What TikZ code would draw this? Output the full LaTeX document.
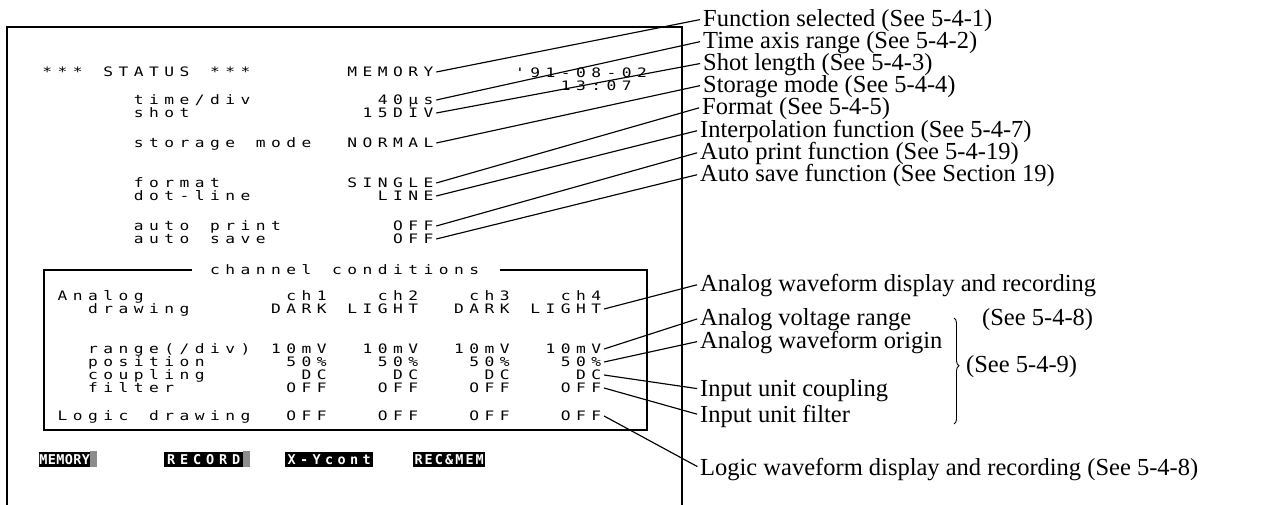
\documentclass[tikz,border=0pt]{standalone}
\usepackage{fontspec}
\setmainfont{Liberation Serif}
\newfontfamily\scrfont{DejaVu Sans Mono}[FakeStretch=1.25]
\newfontfamily\btnfont{DejaVu Sans Mono}
\usetikzlibrary{calc,decorations.pathreplacing}
\newlength\chpitch
\setlength\chpitch{15.25pt}
\def\scrloop#1{\ifx\relax#1\else\makebox[\chpitch][c]{#1}\expandafter\scrloop\fi}
\newcommand\scr[1]{\scrloop#1\relax}
\newcommand\gx[1]{39.4+15.25*(#1)}
\begin{document}
\begin{tikzpicture}[x=1pt,y=-1pt,
  scr/.style={font=\scrfont\fontsize{13}{14}\selectfont, inner sep=0pt, anchor=west, text height=9.5pt, text depth=0pt},
  lab/.style={font=\fontsize{24.5}{25}\selectfont, inner sep=0pt, anchor=west, text height=15pt, text depth=0pt},
  lead/.style={line width=1.15pt, shorten >=3pt},
  frame/.style={line width=1.8pt},
  inner/.style={line width=1.2pt},
  btn/.style={fill=black, text=white, anchor=west, font=\btnfont\bfseries\fontsize{13.5}{14}\selectfont, inner sep=0pt, minimum height=15pt, text height=10pt, text depth=0pt},
  pad/.style={fill=black!45}]
\useasboundingbox (0,0) rectangle (1284,505);
\fill[white] (0,0) rectangle (1284,505);
% outer screen frame
\draw[frame] (7,505) -- (7,27) -- (682,27) -- (682,505);
% status block
\node[scr] (hdr)   at ({\gx{0}},72)  {\scr{***~STATUS~***}};
\node[scr] (vfun)  at ({\gx{20}},72) {\scr{MEMORY}};
\node[scr] (date)  at ({\gx{31}},73) {\scr{'91-08-02}};
\node[scr] (clock) at ({\gx{34}},86) {\scr{13:07}};
\node[scr] (ltime) at ({\gx{6}},100) {\scr{time/div}};
\node[scr] (vtime) at ({\gx{22}},100) {\scr{40µs}};
\node[scr] (lshot) at ({\gx{6}},113) {\scr{shot}};
\node[scr] (vshot) at ({\gx{21}},113) {\scr{15DIV}};
\node[scr] (lstor) at ({\gx{6}},143) {\scr{storage~mode}};
\node[scr] (vstor) at ({\gx{20}},143) {\scr{NORMAL}};
\node[scr] (lfmt)  at ({\gx{6}},183) {\scr{format}};
\node[scr] (vfmt)  at ({\gx{20}},183) {\scr{SINGLE}};
\node[scr] (ldot)  at ({\gx{6}},196) {\scr{dot-line}};
\node[scr] (vdot)  at ({\gx{22}},196) {\scr{LINE}};
\node[scr] (lap)   at ({\gx{6}},226) {\scr{auto~print}};
\node[scr] (vap)   at ({\gx{23}},226) {\scr{OFF}};
\node[scr] (las)   at ({\gx{6}},239) {\scr{auto~save}};
\node[scr] (vas)   at ({\gx{23}},239) {\scr{OFF}};
% channel conditions block
\node[scr] (title) at ({\gx{11}},270) {\scr{channel~conditions}};
\draw[inner] ([xshift=-15pt]title.west) -- (44,270) -- (44,430) -- (647,430) -- (647,270) -- ([xshift=18pt]title.east);
\node[scr] (lan) at ({\gx{1}},296) {\scr{Analog}};
\node[scr] (ldr) at ({\gx{3}},309) {\scr{drawing}};
\node[scr] (lrg) at ({\gx{3}},349) {\scr{range(/div)}};
\node[scr] (lps) at ({\gx{3}},362) {\scr{position}};
\node[scr] (lcp) at ({\gx{3}},375) {\scr{coupling}};
\node[scr] (lfl) at ({\gx{3}},388) {\scr{filter}};
\node[scr] (llg) at ({\gx{1}},416) {\scr{Logic~drawing}};
\foreach \i/\c in {1/16,2/22,3/28,4/34}{
  \node[scr] (ch\i) at ({\gx{\c}},296) {\scr{ch\i}};
  \node[scr] (ps\i) at ({\gx{\c}},362) {\scr{50\%}};
  \node[scr] (fl\i) at ({\gx{\c}},388) {\scr{OFF}};
  \node[scr] (lg\i) at ({\gx{\c}},416) {\scr{OFF}};
}
\foreach \i/\c in {1/15,2/21,3/27,4/33}{
  \node[scr] (rg\i) at ({\gx{\c}},349) {\scr{10mV}};
}
\foreach \i/\c in {1/17,2/23,3/29,4/35}{
  \node[scr] (cp\i) at ({\gx{\c}},375) {\scr{DC}};
}
\node[scr] (dr1) at ({\gx{15}},309) {\scr{DARK}};
\node[scr] (dr2) at ({\gx{20}},309) {\scr{LIGHT}};
\node[scr] (dr3) at ({\gx{27}},309) {\scr{DARK}};
\node[scr] (dr4) at ({\gx{32}},309) {\scr{LIGHT}};
% soft keys
\node[btn, minimum width=51pt] (b1) at (39,459) {\setlength\chpitch{8.5pt}\scr{MEMORY}};
\path[pad] (b1.north east) rectangle ([xshift=7pt]b1.south east);
\node[btn, minimum width=79pt] (b2) at (164,459) {\setlength\chpitch{13pt}\scr{RECORD}};
\path[pad] (b2.north east) rectangle ([xshift=7pt]b2.south east);
\node[btn, minimum width=88pt] (b3) at (285,459) {\setlength\chpitch{12.5pt}\scr{X-Ycont}};
\node[btn, minimum width=72pt] (b4) at (413,459) {\setlength\chpitch{10.2pt}\scr{REC\&MEM}};
% labels
\node[lab] (tfun)  at (703,19)  {Function selected (See 5-4-1)};
\node[lab] (ttime) at (703,41)  {Time axis range (See 5-4-2)};
\node[lab] (tshot) at (703,63)  {Shot length (See 5-4-3)};
\node[lab] (tstor) at (703,85)  {Storage mode (See 5-4-4)};
\node[lab] (tfmt)  at (702,107) {Format (See 5-4-5)};
\node[lab] (tdot)  at (700,130) {Interpolation function (See 5-4-7)};
\node[lab] (tap)   at (700,152) {Auto print function (See 5-4-19)};
\node[lab] (tas)   at (700,174) {Auto save function (See Section 19)};
\node[lab] (tdr)   at (700,284) {Analog waveform display and recording};
\node[lab] (trg)   at (700,318) {Analog voltage range};
\node[lab] (s548)  at (982,318) {(See 5-4-8)};
\node[lab] (tps)   at (700,341) {Analog waveform origin};
\node[lab] (s549)  at (966,365) {(See 5-4-9)};
\node[lab] (tcp)   at (700,389) {Input unit coupling};
\node[lab] (tfl)   at (700,415) {Input unit filter};
\node[lab] (tlg)   at (700,468) {Logic waveform display and recording (See 5-4-8)};
% brace
\coordinate (brt) at (954,318);
\coordinate (brb) at (954,424);
\draw[line width=0.9pt, decorate, decoration={brace, amplitude=5pt, aspect=0.45}] (brt) -- (brb);
% leaders
\draw[lead] (vfun.east)  -- (tfun.west);
\draw[lead] (vtime.east) -- (ttime.west);
\draw[lead] (vshot.east) -- (tshot.west);
\draw[lead] (vstor.east) -- (tstor.west);
\draw[lead] (vfmt.east)  -- (tfmt.west);
\draw[lead] (vdot.east)  -- (tdot.west);
\draw[lead] (vap.east)   -- (tap.west);
\draw[lead] (vas.east)   -- (tas.west);
\draw[lead] (dr4.east)   -- (tdr.west);
\draw[lead] (rg4.east)   -- (trg.west);
\draw[lead] (ps4.east)   -- (tps.west);
\draw[lead] (cp4.east)   -- (tcp.west);
\draw[lead] (fl4.east)   -- (tfl.west);
\draw[lead] (lg4.east)   -- (tlg.west);
\end{tikzpicture}
\end{document}
